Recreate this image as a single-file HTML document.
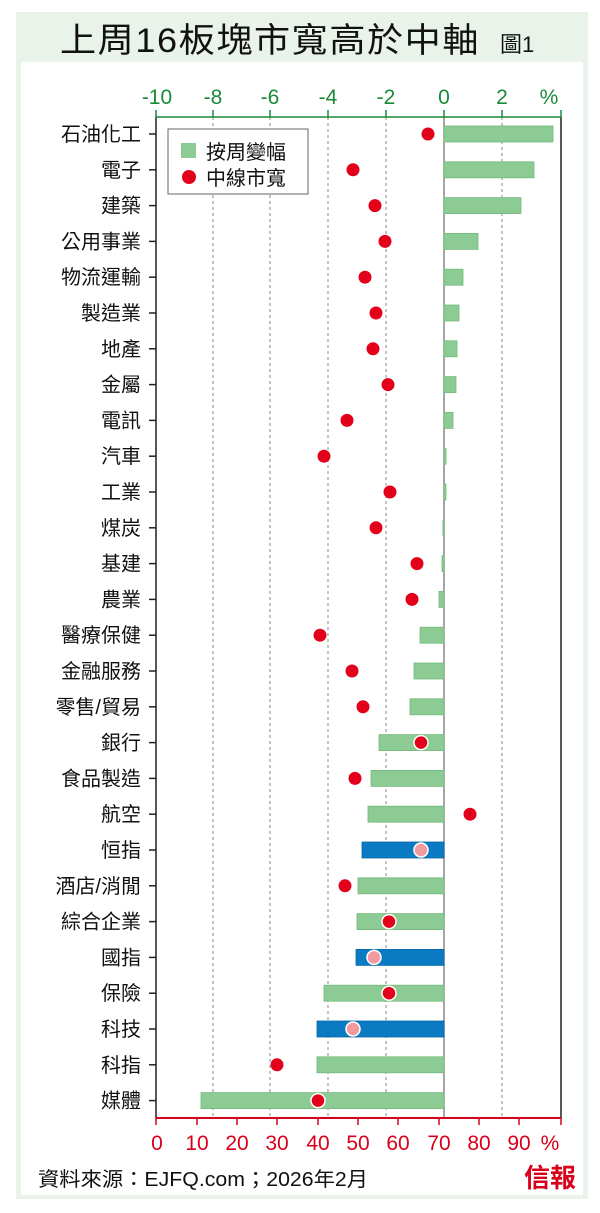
<!DOCTYPE html>
<html><head><meta charset="utf-8"><style>
html,body{margin:0;padding:0;background:#fff;}
svg{display:block;}
text{font-family:"Liberation Sans","Noto Sans CJK TC",sans-serif;}
.l{font-size:20px;text-anchor:end;fill:#111;}
.g{fill:#8ccb93;stroke:#74b97c;stroke-width:0.8;}
.b{fill:#0a7ac2;stroke:#0a6aa8;stroke-width:0.8;}
.d{fill:#e3001b;}
.dw{fill:#e3001b;stroke:#fff;stroke-width:1.5;}
.dp{fill:#f29aa0;stroke:#fff;stroke-width:1.5;}
.t{stroke:#222;stroke-width:1.5;}
</style></head><body>
<svg width="600" height="1213" viewBox="0 0 600 1213" xmlns="http://www.w3.org/2000/svg">
<rect x="16" y="12" width="572" height="1187" fill="#e9f3e9"/>
<rect x="21" y="62" width="562" height="1133" fill="#fff"/>
<text x="60" y="52" font-size="34" letter-spacing="1.5" textLength="420" lengthAdjust="spacingAndGlyphs" fill="#111">上周16板塊市寬高於中軸</text>
<text x="500" y="52" font-size="22" fill="#111">圖1</text>
<g stroke="#888" stroke-dasharray="3,3" stroke-width="1">
<line x1="213" y1="117" x2="213" y2="1118"/><line x1="270" y1="117" x2="270" y2="1118"/>
<line x1="328" y1="117" x2="328" y2="1118"/><line x1="386" y1="117" x2="386" y2="1118"/>
<line x1="502" y1="117" x2="502" y2="1118"/>
</g>
<line x1="444" y1="117" x2="444" y2="1118" stroke="#888" stroke-width="1.5"/>
<line x1="156" y1="117" x2="156" y2="1118" stroke="#222" stroke-width="1.5"/>
<line x1="561" y1="117" x2="561" y2="1118" stroke="#222" stroke-width="1.5"/>
<line x1="156" y1="117" x2="561" y2="117" stroke="#1a8a3a" stroke-width="1.5"/>
<g stroke="#1a8a3a" stroke-width="1.5">
<line x1="156" y1="110" x2="156" y2="117"/><line x1="213" y1="110" x2="213" y2="117"/><line x1="270" y1="110" x2="270" y2="117"/><line x1="328" y1="110" x2="328" y2="117"/><line x1="386" y1="110" x2="386" y2="117"/><line x1="444" y1="110" x2="444" y2="117"/><line x1="502" y1="110" x2="502" y2="117"/><line x1="561" y1="110" x2="561" y2="117"/>
</g>
<g fill="#1a8a3a" font-size="21" text-anchor="middle">
<text x="157" y="104">-10</text><text x="213" y="104">-8</text><text x="270" y="104">-6</text><text x="328" y="104">-4</text><text x="386" y="104">-2</text><text x="444" y="104">0</text><text x="502" y="104">2</text><text x="549" y="104">%</text>
</g>
<line x1="156" y1="1118" x2="561" y2="1118" stroke="#d9001b" stroke-width="2"/>
<g stroke="#d9001b" stroke-width="1.5">
<line x1="156" y1="1118" x2="156" y2="1125"/><line x1="197" y1="1118" x2="197" y2="1125"/><line x1="237" y1="1118" x2="237" y2="1125"/><line x1="277" y1="1118" x2="277" y2="1125"/><line x1="318" y1="1118" x2="318" y2="1125"/><line x1="358" y1="1118" x2="358" y2="1125"/><line x1="398" y1="1118" x2="398" y2="1125"/><line x1="439" y1="1118" x2="439" y2="1125"/><line x1="479" y1="1118" x2="479" y2="1125"/><line x1="519" y1="1118" x2="519" y2="1125"/><line x1="561" y1="1118" x2="561" y2="1125"/>
</g>
<g fill="#d9001b" font-size="21" text-anchor="middle">
<text x="157" y="1150">0</text><text x="197" y="1150">10</text><text x="237" y="1150">20</text><text x="277" y="1150">30</text><text x="318" y="1150">40</text><text x="358" y="1150">50</text><text x="398" y="1150">60</text><text x="439" y="1150">70</text><text x="479" y="1150">80</text><text x="519" y="1150">90</text><text x="550" y="1150">%</text>
</g>

<g transform="translate(0,134)"><line class="t" x1="149" x2="156"/><text class="l" x="141" y="7">石油化工</text><rect class="g" x="444" y="-8" width="109" height="16"/><circle class="d" cx="428" r="6.5"/></g>
<g transform="translate(0,169.8)"><line class="t" x1="149" x2="156"/><text class="l" x="141" y="7">電子</text><rect class="g" x="444" y="-8" width="90" height="16"/><circle class="d" cx="353" r="6.5"/></g>
<g transform="translate(0,205.6)"><line class="t" x1="149" x2="156"/><text class="l" x="141" y="7">建築</text><rect class="g" x="444" y="-8" width="77" height="16"/><circle class="d" cx="375" r="6.5"/></g>
<g transform="translate(0,241.4)"><line class="t" x1="149" x2="156"/><text class="l" x="141" y="7">公用事業</text><rect class="g" x="444" y="-8" width="34" height="16"/><circle class="d" cx="385" r="6.5"/></g>
<g transform="translate(0,277.2)"><line class="t" x1="149" x2="156"/><text class="l" x="141" y="7">物流運輸</text><rect class="g" x="444" y="-8" width="19" height="16"/><circle class="d" cx="365" r="6.5"/></g>
<g transform="translate(0,313)"><line class="t" x1="149" x2="156"/><text class="l" x="141" y="7">製造業</text><rect class="g" x="444" y="-8" width="15" height="16"/><circle class="d" cx="376" r="6.5"/></g>
<g transform="translate(0,348.8)"><line class="t" x1="149" x2="156"/><text class="l" x="141" y="7">地產</text><rect class="g" x="444" y="-8" width="13" height="16"/><circle class="d" cx="373" r="6.5"/></g>
<g transform="translate(0,384.6)"><line class="t" x1="149" x2="156"/><text class="l" x="141" y="7">金屬</text><rect class="g" x="444" y="-8" width="12" height="16"/><circle class="d" cx="388" r="6.5"/></g>
<g transform="translate(0,420.4)"><line class="t" x1="149" x2="156"/><text class="l" x="141" y="7">電訊</text><rect class="g" x="444" y="-8" width="9" height="16"/><circle class="d" cx="347" r="6.5"/></g>
<g transform="translate(0,456.2)"><line class="t" x1="149" x2="156"/><text class="l" x="141" y="7">汽車</text><rect class="g" x="444" y="-8" width="2" height="16"/><circle class="d" cx="324" r="6.5"/></g>
<g transform="translate(0,492)"><line class="t" x1="149" x2="156"/><text class="l" x="141" y="7">工業</text><rect class="g" x="444" y="-8" width="2" height="16"/><circle class="d" cx="390" r="6.5"/></g>
<g transform="translate(0,527.8)"><line class="t" x1="149" x2="156"/><text class="l" x="141" y="7">煤炭</text><rect class="g" x="443" y="-8" width="1" height="16"/><circle class="d" cx="376" r="6.5"/></g>
<g transform="translate(0,563.6)"><line class="t" x1="149" x2="156"/><text class="l" x="141" y="7">基建</text><rect class="g" x="442" y="-8" width="2" height="16"/><circle class="d" cx="417" r="6.5"/></g>
<g transform="translate(0,599.4)"><line class="t" x1="149" x2="156"/><text class="l" x="141" y="7">農業</text><rect class="g" x="439" y="-8" width="5" height="16"/><circle class="d" cx="412" r="6.5"/></g>
<g transform="translate(0,635.2)"><line class="t" x1="149" x2="156"/><text class="l" x="141" y="7">醫療保健</text><rect class="g" x="420" y="-8" width="24" height="16"/><circle class="d" cx="320" r="6.5"/></g>
<g transform="translate(0,671)"><line class="t" x1="149" x2="156"/><text class="l" x="141" y="7">金融服務</text><rect class="g" x="414" y="-8" width="30" height="16"/><circle class="d" cx="352" r="6.5"/></g>
<g transform="translate(0,706.8)"><line class="t" x1="149" x2="156"/><text class="l" x="141" y="7">零售/貿易</text><rect class="g" x="410" y="-8" width="34" height="16"/><circle class="d" cx="363" r="6.5"/></g>
<g transform="translate(0,742.6)"><line class="t" x1="149" x2="156"/><text class="l" x="141" y="7">銀行</text><rect class="g" x="379" y="-8" width="65" height="16"/><circle class="dw" cx="421" r="7"/></g>
<g transform="translate(0,778.4)"><line class="t" x1="149" x2="156"/><text class="l" x="141" y="7">食品製造</text><rect class="g" x="371" y="-8" width="73" height="16"/><circle class="d" cx="355" r="6.5"/></g>
<g transform="translate(0,814.2)"><line class="t" x1="149" x2="156"/><text class="l" x="141" y="7">航空</text><rect class="g" x="368" y="-8" width="76" height="16"/><circle class="d" cx="470" r="6.5"/></g>
<g transform="translate(0,850)"><line class="t" x1="149" x2="156"/><text class="l" x="141" y="7">恒指</text><rect class="b" x="362" y="-8" width="82" height="16"/><circle class="dp" cx="421" r="7"/></g>
<g transform="translate(0,885.8)"><line class="t" x1="149" x2="156"/><text class="l" x="141" y="7">酒店/消閒</text><rect class="g" x="358" y="-8" width="86" height="16"/><circle class="d" cx="345" r="6.5"/></g>
<g transform="translate(0,921.6)"><line class="t" x1="149" x2="156"/><text class="l" x="141" y="7">綜合企業</text><rect class="g" x="357" y="-8" width="87" height="16"/><circle class="dw" cx="389" r="7"/></g>
<g transform="translate(0,957.4)"><line class="t" x1="149" x2="156"/><text class="l" x="141" y="7">國指</text><rect class="b" x="356" y="-8" width="88" height="16"/><circle class="dp" cx="374" r="7"/></g>
<g transform="translate(0,993.2)"><line class="t" x1="149" x2="156"/><text class="l" x="141" y="7">保險</text><rect class="g" x="324" y="-8" width="120" height="16"/><circle class="dw" cx="389" r="7"/></g>
<g transform="translate(0,1029)"><line class="t" x1="149" x2="156"/><text class="l" x="141" y="7">科技</text><rect class="b" x="317" y="-8" width="127" height="16"/><circle class="dp" cx="353" r="7"/></g>
<g transform="translate(0,1064.8)"><line class="t" x1="149" x2="156"/><text class="l" x="141" y="7">科指</text><rect class="g" x="317" y="-8" width="127" height="16"/><circle class="d" cx="277" r="6.5"/></g>
<g transform="translate(0,1100.6)"><line class="t" x1="149" x2="156"/><text class="l" x="141" y="7">媒體</text><rect class="g" x="201" y="-8" width="243" height="16"/><circle class="dw" cx="318" r="7"/></g>

<rect x="168" y="129" width="140" height="65" fill="#fff" stroke="#666" stroke-width="1"/>
<rect x="181" y="143" width="15" height="15" fill="#8ccb93"/>
<text x="206" y="159" font-size="20" fill="#111">按周變幅</text>
<circle cx="189" cy="177" r="7" fill="#e3001b"/>
<text x="206" y="185" font-size="20" fill="#111">中線市寬</text>
<text x="38" y="1186" font-size="20" textLength="330" lengthAdjust="spacingAndGlyphs" fill="#111">資料來源：EJFQ.com；2026年2月</text>
<text x="576" y="1187" font-size="26" font-weight="bold" fill="#d9001b" text-anchor="end" font-family="Noto Serif CJK SC,serif">信報</text>
</svg>
</body></html>
